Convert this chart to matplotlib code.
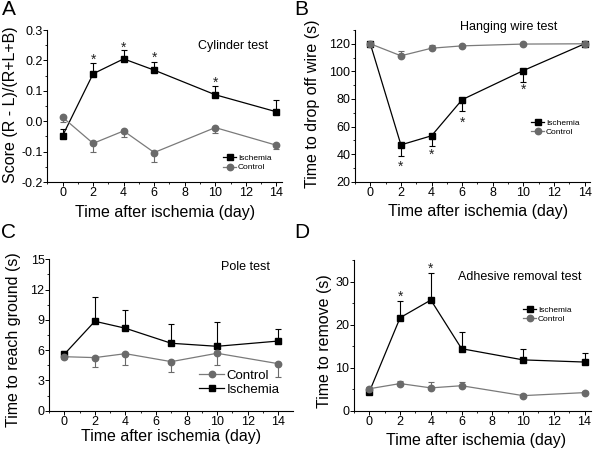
import matplotlib
matplotlib.use("Agg")
import matplotlib.pyplot as plt
import numpy as np
from matplotlib.ticker import MultipleLocator

plt.rcParams['font.family'] = ['Liberation Sans', 'DejaVu Sans']

# ---------------- data ----------------
days = [0, 2, 4, 6, 10, 14]
days_pole = [0, 2, 4, 7, 10, 14]

# A: Cylinder test
cyl_isch = [-0.048, 0.156, 0.205, 0.168, 0.087, 0.031]
cyl_isch_err = [0.022, 0.035, 0.028, 0.027, 0.028, 0.039]
cyl_ctrl = [0.013, -0.073, -0.032, -0.103, -0.021, -0.079]
cyl_ctrl_err = [0.017, 0.029, 0.02, 0.032, 0.018, 0.012]
cyl_stars_x = [2, 4, 6, 10]
cyl_stars_y = [0.213, 0.255, 0.221, 0.139]

# B: Hanging wire test
wire_isch = [120, 46.7, 53.3, 79.5, 100.6, 120]
wire_isch_err = [0, 8.0, 7.1, 8.0, 8.3, 0]
wire_ctrl = [120, 111.3, 116.8, 118.5, 119.8, 120]
wire_ctrl_err = [0, 3.3, 2.0, 0.5, 0.3, 0]
wire_stars_x = [2, 4, 6, 10]
wire_stars_y = [33.8, 42.3, 65.6, 89.1]

# C: Pole test
pole_ctrl = [5.35, 5.26, 5.65, 4.86, 5.69, 4.66]
pole_ctrl_err = [0.2, 0.96, 1.12, 1.02, 1.16, 1.32]
pole_isch = [5.59, 8.86, 8.17, 6.68, 6.38, 6.9]
pole_isch_err = [0.3, 2.44, 1.78, 1.92, 2.41, 1.17]

# D: Adhesive removal test
adh_isch = [4.4, 21.6, 25.7, 14.4, 11.8, 11.3]
adh_isch_err = [0.3, 3.9, 6.3, 3.8, 2.6, 2.0]
adh_ctrl = [5.1, 6.3, 5.3, 5.8, 3.5, 4.2]
adh_ctrl_err = [0.3, 0.7, 1.3, 0.9, 0.3, 0.3]
adh_stars_x = [2, 4]
adh_stars_y = [27.3, 33.7]

# ---------------- layout ----------------
W, H = 600, 453
fig = plt.figure(figsize=(W / 100, H / 100), dpi=100)


def box(l, r, t, b):
    return [l / W, 1 - b / H, (r - l) / W, (b - t) / H]


BLACK = '#000000'
GREY = '#6a6a6a'
GREYLINE = '#7a7a7a'


def style(ax, xlim, ylim, ymaj, ymin):
    ax.set_xlim(*xlim)
    ax.set_ylim(*ylim)
    for s in ['top', 'right']:
        ax.spines[s].set_visible(False)
    for s in ['left', 'bottom']:
        ax.spines[s].set_linewidth(0.8)
    ax.xaxis.set_major_locator(MultipleLocator(2))
    ax.xaxis.set_minor_locator(MultipleLocator(1))
    ax.yaxis.set_major_locator(MultipleLocator(ymaj))
    ax.yaxis.set_minor_locator(MultipleLocator(ymin))
    ax.tick_params(which='major', direction='out', length=2.6, width=0.7,
                   labelsize=9, pad=1.2)
    ax.tick_params(axis='y', which='major', pad=0.6)
    ax.tick_params(which='minor', direction='out', length=1.6, width=0.6)
    ax.patch.set_alpha(0)


def series(ax, x, y, err, up, color, lcolor, marker, ms, label):
    e = np.array(err, dtype=float)
    z = np.zeros_like(e)
    yerr = [z, e] if up else [e, z]
    ax.errorbar(x, y, yerr=yerr, fmt='none', ecolor=color, elinewidth=0.8,
                capsize=2.2, capthick=0.8, zorder=2)
    ax.plot(x, y, color=lcolor, lw=0.9, marker=marker, ms=ms, mfc=color,
            mec=color, label=label, zorder=3)


def stars(ax, xs, ys, fs=10):
    for xx, yy in zip(xs, ys):
        ax.annotate('*', (xx, yy), xytext=(0, -0.55 * fs), textcoords='offset points',
                    ha='center', va='baseline', fontsize=fs, color='#222222')


def fig_text(x, y, s, **kw):
    fig.text(x / W, 1 - y / H, s, **kw)


def legend(ax, order, px, py, fs, hl, ls):
    handles, labels = ax.get_legend_handles_labels()
    d = dict(zip(labels, handles))
    ax.legend([d[k] for k in order], order, loc='center left',
              bbox_to_anchor=(px / W, 1 - py / H), bbox_transform=fig.transFigure,
              frameon=False, fontsize=fs, handlelength=hl, handletextpad=0.2,
              borderpad=0, borderaxespad=0, labelspacing=ls, numpoints=1)


# ---- A ----
axA = fig.add_axes(box(47.3, 281.7, 30, 182))
style(axA, (-1, 14.35), (-0.2, 0.3), 0.1, 0.05)
axA.yaxis.set_major_formatter(matplotlib.ticker.FormatStrFormatter('%.1f'))
series(axA, days, cyl_isch, cyl_isch_err, True, BLACK, BLACK, 's', 4.0, 'Ischemia')
series(axA, days, cyl_ctrl, cyl_ctrl_err, False, GREY, GREYLINE, 'o', 4.6, 'Control')
stars(axA, cyl_stars_x, cyl_stars_y)
legend(axA, ['Ischemia', 'Control'], 223, 163, 6, 1.6, 0.15)

# ---- B ----
axB = fig.add_axes(box(355, 590, 30, 181.7))
style(axB, (-1, 14.35), (20, 130), 20, 10)
series(axB, days, wire_isch, wire_isch_err, False, BLACK, BLACK, 's', 4.0, 'Ischemia')
series(axB, days, wire_ctrl, wire_ctrl_err, True, GREY, GREYLINE, 'o', 4.6, 'Control')
stars(axB, wire_stars_x, wire_stars_y)
legend(axB, ['Ischemia', 'Control'], 531, 127.5, 6, 1.6, 0.15)

# ---- C ----
axC = fig.add_axes(box(49, 292.7, 259.3, 410.7))
style(axC, (-1, 14.95), (0, 15), 3, 1.5)
series(axC, days_pole, pole_isch, pole_isch_err, True, BLACK, BLACK, 's', 4.0, 'Ischemia')
series(axC, days_pole, pole_ctrl, pole_ctrl_err, False, GREY, GREYLINE, 'o', 4.6, 'Control')
legend(axC, ['Control', 'Ischemia'], 199, 382.5, 9.5, 1.9, 0.15)

# ---- D ----
axD = fig.add_axes(box(354, 590.7, 260, 410.7))
style(axD, (-1, 14.4), (0, 35), 10, 5)
series(axD, days, adh_isch, adh_isch_err, True, BLACK, BLACK, 's', 4.0, 'Ischemia')
series(axD, days, adh_ctrl, adh_ctrl_err, True, GREY, GREYLINE, 'o', 4.6, 'Control')
stars(axD, adh_stars_x, adh_stars_y)
legend(axD, ['Ischemia', 'Control'], 523, 314.7, 6, 1.6, 0.15)

# ---- titles inside panels ----
fig_text(233, 45.7, 'Cylinder test', ha='center', va='center', fontsize=9)
fig_text(509, 27.3, 'Hanging wire test', ha='center', va='center', fontsize=9)
fig_text(246, 267.3, 'Pole test', ha='center', va='center', fontsize=9)
fig_text(520, 277.3, 'Adhesive removal test', ha='center', va='center', fontsize=9)

# ---- axis labels ----
XL = 'Time after ischemia (day)'
LFS = 11.5
fig_text(165, 213, XL, ha='center', va='center', fontsize=LFS)
fig_text(478, 212, XL, ha='center', va='center', fontsize=LFS)
fig_text(171, 437, XL, ha='center', va='center', fontsize=LFS)
fig_text(476, 440, XL, ha='center', va='center', fontsize=LFS)

fig_text(11, 105, 'Score (R - L)/(R+L+B)', ha='center', va='center', rotation=90, fontsize=LFS)
fig_text(313, 103.5, 'Time to drop off wire (s)', ha='center', va='center', rotation=90, fontsize=LFS)
fig_text(14, 340, 'Time to reach ground (s)', ha='center', va='center', rotation=90, fontsize=LFS)
fig_text(325, 341, 'Time to remove (s)', ha='center', va='center', rotation=90, fontsize=LFS)

# ---- panel letters ----
for lx, ly, s in [(2, 0, 'A'), (294, 0, 'B'), (1, 223, 'C'), (294, 223, 'D')]:
    fig_text(lx, ly, s, ha='left', va='top', fontsize=15)

fig.savefig('out.png', dpi=100)
